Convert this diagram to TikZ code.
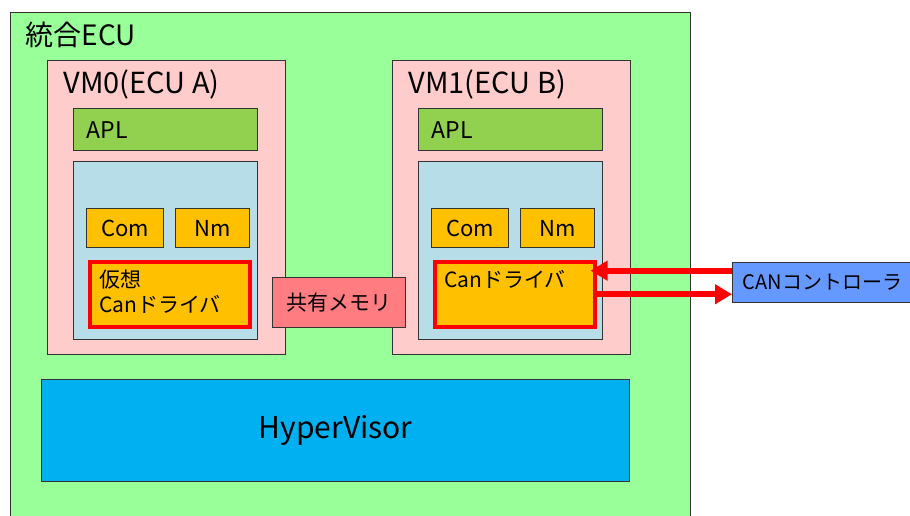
\documentclass[tikz,border=0pt]{standalone}
\usepackage{fontspec}
\setmainfont{Noto Sans CJK JP}
\usetikzlibrary{arrows.meta,positioning}
\definecolor{ecugreen}{HTML}{99FF99}
\definecolor{vmpink}{HTML}{FFCCCC}
\definecolor{aplgreen}{HTML}{92D050}
\definecolor{oscyan}{HTML}{B7DEE8}
\definecolor{modorange}{HTML}{FFC000}
\definecolor{shmred}{HTML}{FF7C80}
\definecolor{canblue}{HTML}{6699FF}
\definecolor{hvblue}{HTML}{00B0F0}

\begin{document}
\begin{tikzpicture}[x=1pt,y=-1pt,
    blk/.style={draw=black!80,line width=1.3pt,anchor=north west,inner sep=0pt},
    drvbox/.style={draw=red,line width=3.5pt,fill=modorange,anchor=north west,inner sep=0pt},
    sig/.style={draw=red,line width=6pt,-{Triangle[length=17pt,width=19pt]}}]
            \useasboundingbox (0,0) rectangle (910,515);
            % ECU
            \node[blk,fill=ecugreen,minimum width=680pt,minimum height=530pt] (ecu) at (10,12) {};
            \node[anchor=base west,font=\fontsize{28}{32}\selectfont] (ecut) at (22,45) {統合ECU};
            % VMs
            \foreach \x/\n/\t in {47/0/A,392/1/B}{
                \node[blk,fill=vmpink,minimum width=238pt,minimum height=294pt] (vm\n) at (\x,60) {};
                \node[anchor=base west,font=\fontsize{29}{33}\selectfont] (vmt\n) at (\x+13,93) {VM\n(ECU \t)};
                \node[blk,fill=aplgreen,minimum width=184pt,minimum height=42pt,text width=158pt,inner xsep=13pt,align=left,font=\fontsize{23}{27}\selectfont] (apl\n) at (\x+26,108) {APL};
                \node[blk,fill=oscyan,minimum width=184pt,minimum height=178pt] (os\n) at (\x+26,161) {};
                \node[blk,fill=modorange,minimum width=77pt,minimum height=39pt,font=\fontsize{22}{26}\selectfont] (com\n) at (\x+39,208) {Com};
                \node[blk,fill=modorange,minimum width=74pt,minimum height=39pt,font=\fontsize{22}{26}\selectfont] (nm\n) at (\x+128,208) {Nm};
                \node[drvbox,minimum width=160pt,minimum height=65pt] (drv\n) at (\x+41,260) {};
            }
            \node[below right=10pt and 11pt of drv0.north west,anchor=north west,inner sep=0pt,align=left,font=\fontsize{21}{25}\selectfont] (drvt0) {仮想\\Canドライバ};
            \node[below right=10pt and 11pt of drv1.north west,anchor=north west,inner sep=0pt,font=\fontsize{21}{25}\selectfont] (drvt1) {Canドライバ};
            % shared memory, controller
            \node[blk,fill=shmred,minimum width=133pt,minimum height=50pt,font=\fontsize{21}{25}\selectfont] (shm) at (272,277) {共有メモリ};
            \node[blk,fill=canblue,minimum width=180pt,minimum height=40pt,font=\fontsize{20}{24}\selectfont] (can) at (732,262) {CANコントローラ};
            % hypervisor
            \node[blk,fill=hvblue,minimum width=588pt,minimum height=102pt,font=\fontsize{30}{34}\selectfont] (hv) at (41,379) {HyperVisor};
            % signals
            \coordinate (rx) at ([yshift=12pt]can.west);
            \draw[sig,shorten >=-6pt] (rx) -- (rx -| drv1.east);
            \draw[sig] (drv1.east) -- (drv1.east -| can.west);
\end{tikzpicture}
\end{document}
